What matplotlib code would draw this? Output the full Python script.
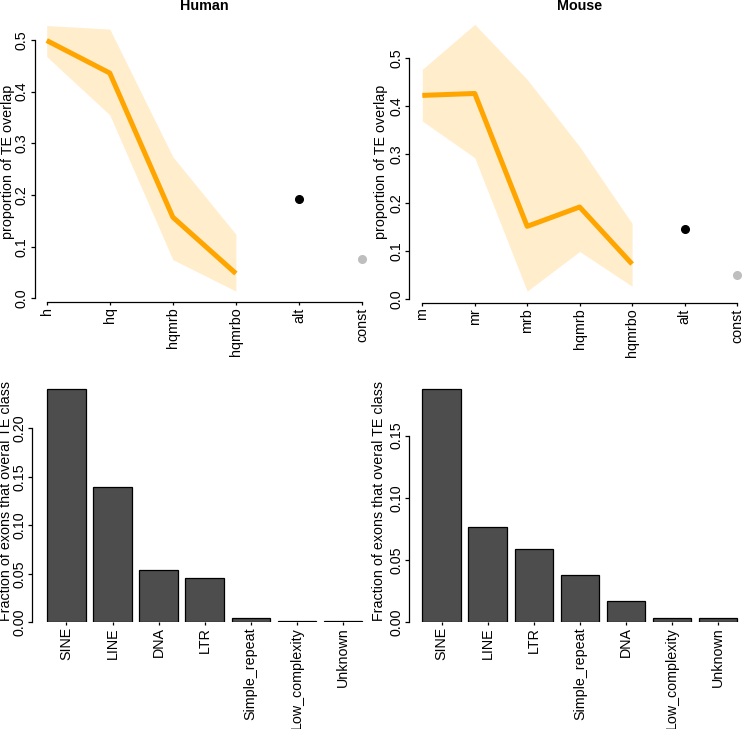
import matplotlib
matplotlib.use("Agg")
import matplotlib.pyplot as plt
import numpy as np

plt.rcParams['font.family'] = ['Liberation Sans', 'DejaVu Sans']
plt.rcParams['font.size'] = 10.3

# top row: proportion of TE overlap (line + confidence band) per exon set
human_sets = ["h", "hq", "hqmrb", "hqmrbo"]
human_prop = [0.499, 0.436, 0.157, 0.048]
human_lo = [0.468, 0.355, 0.075, 0.014]
human_hi = [0.528, 0.521, 0.274, 0.124]
human_alt = 0.193
human_const = 0.077

mouse_sets = ["m", "mr", "mrb", "hqmrb", "hqmrbo"]
mouse_prop = [0.422, 0.426, 0.151, 0.191, 0.073]
mouse_lo = [0.369, 0.293, 0.017, 0.099, 0.027]
mouse_hi = [0.476, 0.569, 0.455, 0.316, 0.157]
mouse_alt = 0.146
mouse_const = 0.050

# bottom row: fraction of exons overlapping each TE class
human_te = ["SINE", "LINE", "DNA", "LTR", "Simple_repeat", "Low_complexity", "Unknown"]
human_frac = [0.2403, 0.1394, 0.0537, 0.0455, 0.0045, 0.0015, 0.0015]
mouse_te = ["SINE", "LINE", "LTR", "Simple_repeat", "DNA", "Low_complexity", "Unknown"]
mouse_frac = [0.1874, 0.0770, 0.0593, 0.0384, 0.0175, 0.0035, 0.0035]

W, H = 742, 729
fig = plt.figure(figsize=(W / 100, H / 100), dpi=100)


def box(left, top, right, bottom):
    return [left / W, 1 - bottom / H, (right - left) / W, (bottom - top) / H]


def style(ax, label_off_px, width_px):
    for s in ["top", "right"]:
        ax.spines[s].set_visible(False)
    ax.spines["left"].set_linewidth(0.9)
    ax.spines["bottom"].set_linewidth(0.9)
    ax.tick_params(axis="y", length=3, width=0.9, pad=1.5)
    ax.tick_params(axis="x", length=2.5, width=0.9, pad=1)
    for lab in ax.get_yticklabels():
        lab.set_rotation(90)
        lab.set_va("center")
    ax.yaxis.set_label_coords(-label_off_px / width_px, 0.5)


def line_panel(ax, sets, prop, lo, hi, alt, const, xlim, ymax, label_off, width_px):
    ax.spines["bottom"].set_position(("outward", 3))
    x = np.arange(len(sets))
    ax.fill_between(x, lo, hi, color="orange", alpha=0.2, linewidth=0)
    ax.plot(x, prop, color="orange", lw=3.6, solid_capstyle="butt")
    n = len(sets)
    ax.plot([n], [alt], "o", color="black", ms=5.5)
    ax.plot([n + 1], [const], "o", color="#BEBEBE", ms=5.5)
    labels = sets + ["alt", "const"]
    ax.set_xticks(np.arange(n + 2))
    ax.set_xticklabels(labels, rotation=90)
    ax.set_xlim(xlim)
    ax.set_ylim(0, ymax)
    ax.set_yticks([0, 0.1, 0.2, 0.3, 0.4, 0.5])
    ax.set_yticklabels(["0.0", "0.1", "0.2", "0.3", "0.4", "0.5"])
    ax.spines["left"].set_bounds(0, 0.5)
    ax.spines["bottom"].set_bounds(0, n + 1)
    ax.set_ylabel("proportion of TE overlap")
    style(ax, label_off, width_px)


ax1 = fig.add_axes(box(35, 24.5, 374.6, 298.3))
line_panel(ax1, human_sets, human_prop, human_lo, human_hi, human_alt, human_const,
           (-0.186, 5.2), 0.53, 20, 339.6)
ax2 = fig.add_axes(box(409.3, 23.9, 750.1, 299.3))
line_panel(ax2, mouse_sets, mouse_prop, mouse_lo, mouse_hi, mouse_alt, mouse_const,
           (-0.248, 6.25), 0.57, 21.5, 340.8)

fig.text((35 + 374.6) / 2 / W, 1 - 6.5 / H, "Human", ha="center", va="center", fontweight="bold")
fig.text((409.3 + 750.1) / 2 / W, 1 - 6.5 / H, "Mouse", ha="center", va="center", fontweight="bold")


def bar_panel(ax, names, frac, xlo, ymax, yticks, label_off, width_px):
    x = 0.7 + 1.2 * np.arange(len(names))
    ax.bar(x, frac, width=1.0, color="#4D4D4D", edgecolor="black", linewidth=0.9)
    ax.set_xticks(x)
    ax.set_xticklabels(names, rotation=90)
    ax.set_xlim(xlo, 8.728)
    ax.set_ylim(0, ymax)
    ax.set_yticks(yticks)
    ax.set_yticklabels(["%.2f" % v for v in yticks])
    ax.spines["bottom"].set_visible(False)
    ax.spines["left"].set_bounds(0, yticks[-1])
    ax.set_ylabel("Fraction of exons that overal TE class")
    style(ax, label_off, width_px)


ax3 = fig.add_axes(box(32.3, 379.8, 374.6, 622.3))
bar_panel(ax3, human_te, human_frac, -0.191, 0.25, [0, 0.05, 0.10, 0.15, 0.20], 19, 342.3)
ax4 = fig.add_axes(box(409.3, 379.7, 750.1, 622.3))
bar_panel(ax4, mouse_te, mouse_frac, -0.139, 0.195, [0, 0.05, 0.10, 0.15], 23, 340.8)

plt.savefig("out.png", dpi=100)
